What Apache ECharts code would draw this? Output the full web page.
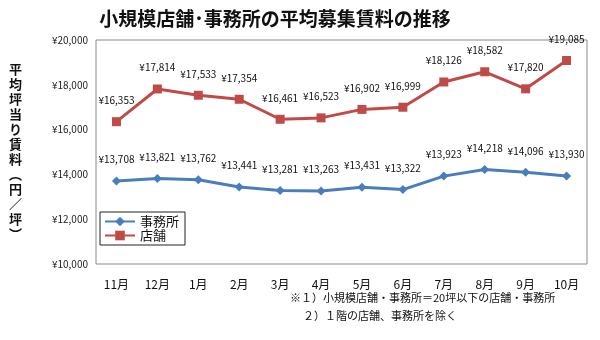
<!DOCTYPE html>
<html><head><meta charset="utf-8">
<script src="https://cdn.jsdelivr.net/npm/echarts@6/dist/echarts.min.js"></script>
<style>html,body{margin:0;padding:0;background:#fff}#c{width:600px;height:340px}</style>
</head><body><div id="c"></div>
<script>
const categories = ['11月','12月','1月','2月','3月','4月','5月','6月','7月','8月','9月','10月'];
const office = [13708,13821,13762,13441,13281,13263,13431,13322,13923,14218,14096,13930];
const store = [16353,17814,17533,17354,16461,16523,16902,16999,18126,18582,17820,19085];
const seriesNames = ['事務所','店舗'];
const titleText = '小規模店舗･事務所の平均募集賃料の推移';
const yName = '平均坪当り賃料︵円／坪︶';
const notes = ['※１）小規模店舗・事務所＝20坪以下の店舗・事務所','２）１階の店舗、事務所を除く'];
const FONT = '"Noto Sans CJK JP", sans-serif';
const fmt = v => '¥' + v.toLocaleString('en-US');

const chart = echarts.init(document.getElementById('c'));
chart.setOption({
  backgroundColor: '#fff',
  animation: false,
  textStyle: { fontFamily: FONT },
  title: { text: titleText, left: 270, textAlign: 'center', top: 4,
    textStyle: { fontSize: 19, fontWeight: 'bold', color: '#111', fontFamily: FONT } },
  grid: { left: 96, right: 13, top: 40, bottom: 76, show: true, borderColor: '#888', borderWidth: 1 },
  legend: { orient: 'vertical', left: 100, top: 212, padding: [3, 6, 3, 4], itemGap: 1,
    borderColor: '#222', borderWidth: 1, itemWidth: 30, itemHeight: 12,
    textStyle: { fontSize: 13, color: '#111', fontFamily: FONT },
    data: seriesNames },
  xAxis: { type: 'category', data: categories, boundaryGap: true,
    axisLine: { show: false }, axisTick: { show: false },
    axisLabel: { fontSize: 12, color: '#111', margin: 14, fontFamily: FONT } },
  yAxis: { type: 'value', min: 10000, max: 20000, interval: 2000,
    name: yName.split('').join('\n'), nameLocation: 'middle', nameRotate: 0, nameGap: 74,
    nameTextStyle: { fontSize: 13, fontWeight: 'bold', color: '#111', lineHeight: 15, fontFamily: FONT },
    axisLine: { show: false }, axisTick: { show: false }, splitLine: { show: false },
    axisLabel: { fontSize: 10, color: '#222', margin: 8, formatter: v => fmt(v) } },
  series: [
    { name: seriesNames[0], type: 'line', data: office, symbol: 'diamond', symbolSize: 9,
      color: '#4A7EBB', lineStyle: { width: 3, color: '#4A7EBB' }, itemStyle: { color: '#4A7EBB' },
      label: { show: true, position: 'top', distance: 12, fontSize: 10, color: '#111', formatter: p => fmt(p.value) } },
    { name: seriesNames[1], type: 'line', data: store, symbol: 'rect', symbolSize: 9,
      color: '#BE4B48', lineStyle: { width: 3, color: '#BE4B48' }, itemStyle: { color: '#BE4B48' },
      label: { show: true, position: 'top', distance: 12, fontSize: 10, color: '#111', formatter: p => fmt(p.value) } }
  ],
  graphic: [
    { type: 'text', left: 290, top: 292, style: { text: notes[0], fontSize: 11, fill: '#111', fontFamily: FONT } },
    { type: 'text', left: 303, top: 310, style: { text: notes[1], fontSize: 11, fill: '#111', fontFamily: FONT } }
  ]
});
</script></body></html>
